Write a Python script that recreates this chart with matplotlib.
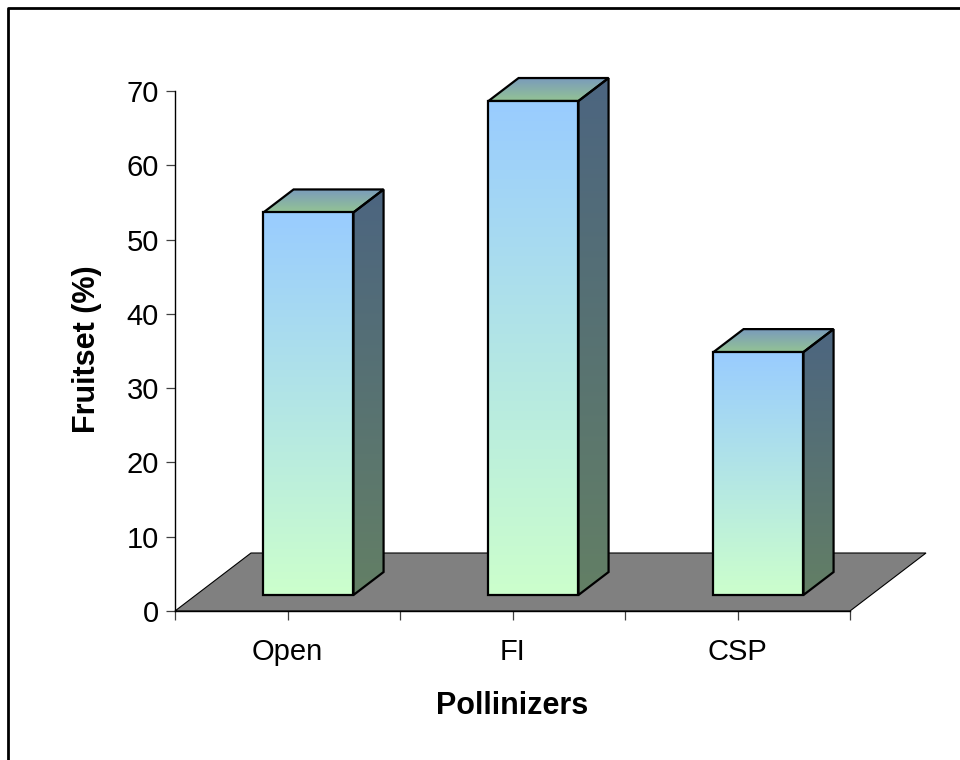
import numpy as np
import matplotlib
matplotlib.use("Agg")
import matplotlib.pyplot as plt
from matplotlib.patches import Polygon
from matplotlib.lines import Line2D
from matplotlib.colors import to_rgb

plt.rcParams['font.family'] = ['Liberation Sans', 'DejaVu Sans']

# data
categories = ["Open", "FI", "CSP"]
fruitset = [51.5, 66.5, 32.7]
y_ticks = [0, 10, 20, 30, 40, 50, 60, 70]
x_title = "Pollinizers"
y_title = "Fruitset (%)"

W, H = 960, 760
fig = plt.figure(figsize=(W / 100, H / 100), dpi=100)
fig.patch.set_facecolor("white")

# value scale: zero at y=611 px, 70 at y=91 px; axes box reaches higher so
# the 3-D tops of tall columns are not cut off
ax_l, ax_r, ax_b, ax_t = 175, 925, 611, 91
box_top = 40
px_per_val = (ax_b - ax_t) / 70.0
ax = fig.add_axes([ax_l / W, 1 - ax_b / H, (ax_r - ax_l) / W, (ax_b - box_top) / H])
ax.set_autoscale_on(False)
n = len(categories)
px_per_cat = 225.0
XMAX = (ax_r - ax_l) / px_per_cat
YMAX = (ax_b - box_top) / px_per_val
ax.set_xlim(0, XMAX)
ax.set_ylim(0, YMAX)

# oblique projection of depth: full floor depth shifts 76 px right, 58 px up
DX = 76 / px_per_cat
DY = 58 / px_per_val


def proj(x, v, z):
    return (x + z * DX, v + z * DY)


# floor
floor = Polygon([proj(0, 0, 0), proj(n, 0, 0), proj(n, 0, 1), proj(0, 0, 1)],
                closed=True, facecolor="#808080", edgecolor="black",
                linewidth=0.8, zorder=1, clip_on=False)
ax.add_patch(floor)


def gradient_fill(poly_pts, c0, c1, y0, y1, zorder):
    """Fill a polygon with a vertical gradient from c0 (at y0) to c1 (at y1)."""
    pts = np.array(poly_pts)
    xmin, xmax = pts[:, 0].min(), pts[:, 0].max()
    ymin, ymax = pts[:, 1].min(), pts[:, 1].max()
    t = np.linspace(0, 1, 256)
    ys = ymin + t * (ymax - ymin)
    f = np.clip((ys - y0) / (y1 - y0), 0, 1)
    a, b = np.array(to_rgb(c0)), np.array(to_rgb(c1))
    img = (a[None, :] * (1 - f[:, None]) + b[None, :] * f[:, None])[:, None, :]
    clip = Polygon(pts, closed=True, facecolor="none", edgecolor="none",
                   transform=ax.transData)
    im = ax.imshow(img, extent=(xmin, xmax, ymin, ymax), origin="lower",
                   aspect="auto", interpolation="bilinear", zorder=zorder)
    im.set_clip_path(clip)
    edge = Polygon(pts, closed=True, facecolor="none", edgecolor="black",
                   linewidth=1.6, joinstyle="miter", zorder=zorder + 0.1,
                   clip_on=False)
    ax.add_patch(edge)


Z1, Z2 = 0.276, 0.672
BW = 0.4
for i, val in enumerate(fruitset):
    x0 = i + 0.5 - BW / 2
    x1 = i + 0.5 + BW / 2
    zo = 3 + i
    # right side face
    side = [proj(x1, 0, Z1), proj(x1, 0, Z2), proj(x1, val, Z2), proj(x1, val, Z1)]
    gradient_fill(side, "#637F65", "#4C6580", proj(x1, 0, Z1)[1],
                  proj(x1, val, Z2)[1], zo)
    # top face
    top = [proj(x0, val, Z1), proj(x1, val, Z1), proj(x1, val, Z2), proj(x0, val, Z2)]
    gradient_fill(top, "#93C394", "#7A9BBC", proj(x0, val, Z1)[1],
                  proj(x0, val, Z2)[1], zo)
    # front face
    front = [proj(x0, 0, Z1), proj(x1, 0, Z1), proj(x1, val, Z1), proj(x0, val, Z1)]
    gradient_fill(front, "#CCFFCC", "#99CCFF", proj(x0, 0, Z1)[1],
                  proj(x0, val, Z1)[1], zo + 0.2)

# axes styling
for s in ("top", "right"):
    ax.spines[s].set_visible(False)
ax.spines["left"].set_bounds(0, 70)
ax.spines["bottom"].set_bounds(0, n)
for s in ("left", "bottom"):
    ax.spines[s].set_color("black")
    ax.spines[s].set_linewidth(1.0)
    ax.spines[s].set_zorder(2)

ax.set_yticks(y_ticks)
ax.set_yticklabels([str(v) for v in y_ticks])
ax.tick_params(axis="y", direction="out", length=6.5, width=0.9,
               color="#404040", labelsize=21, pad=5)
ax.set_xticks(np.arange(0, n + 0.01, 0.5))
ax.set_xticklabels([])
ax.tick_params(axis="x", direction="out", length=6.5, width=0.9,
               color="#404040")
ax.patch.set_visible(False)

# category labels
for i, c in enumerate(categories):
    fig.text((ax_l + (i + 0.5) * px_per_cat) / W, 1 - 660 / H, c,
             ha="center", va="baseline", fontsize=21)

fig.text((ax_l + n * px_per_cat / 2) / W, 1 - 714 / H, x_title,
         ha="center", va="baseline", fontsize=22, fontweight="bold")
fig.text(87 / W, 1 - 349 / H, y_title, ha="center", va="center",
         rotation=90, fontsize=22, fontweight="bold")

# outer frame (left and top edges)
fig.add_artist(Line2D([8 / W, 8 / W, 1.0], [0.0, 1 - 8 / H, 1 - 8 / H],
                      transform=fig.transFigure, color="black", linewidth=2.0))

fig.savefig("out.png", dpi=100)
